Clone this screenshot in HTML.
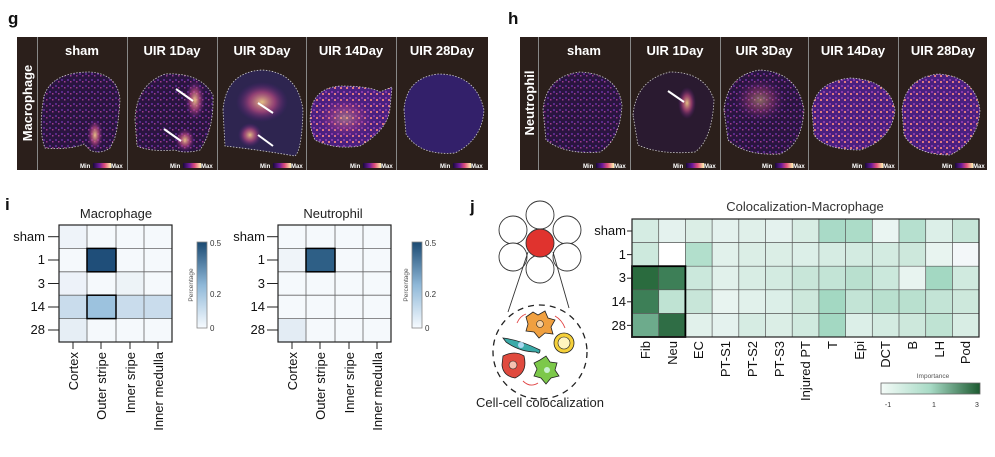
<!DOCTYPE html>
<html><head><meta charset="utf-8"><style>
body{margin:0;background:#fff;}
svg{display:block;font-family:"Liberation Sans",Arial,sans-serif;}
</style></head><body>
<svg width="995" height="457" viewBox="0 0 995 457" xmlns="http://www.w3.org/2000/svg">
<defs>
<linearGradient id="mm" x1="0" x2="1"><stop offset="0" stop-color="#1a0a3a"/><stop offset=".35" stop-color="#6a1a9a"/><stop offset=".65" stop-color="#e0507a"/><stop offset="1" stop-color="#fff2b0"/></linearGradient>
<linearGradient id="bl" x1="0" y1="1" x2="0" y2="0"><stop offset="0" stop-color="#f7fbff"/><stop offset=".5" stop-color="#8fb8d8"/><stop offset="1" stop-color="#1b4a72"/></linearGradient>
<linearGradient id="gr" x1="0" x2="1"><stop offset="0" stop-color="#f4fbf8"/><stop offset=".5" stop-color="#a7dac5"/><stop offset="1" stop-color="#1c5a30"/></linearGradient>
<radialGradient id="hot"><stop offset="0" stop-color="#f8d28a" stop-opacity=".9"/><stop offset=".5" stop-color="#d0508a" stop-opacity=".6"/><stop offset="1" stop-color="#5a1a8a" stop-opacity="0"/></radialGradient>
<pattern id="dots" width="6" height="6" patternUnits="userSpaceOnUse"><rect width="6" height="6" fill="#2a1540"/><rect x="1" y="1" width="2" height="2" fill="#5a2a8a"/><rect x="4" y="3" width="1.5" height="1.5" fill="#a03a90"/></pattern>
<pattern id="dots2" width="6" height="6" patternUnits="userSpaceOnUse"><rect width="6" height="6" fill="#4a2080"/><rect x="1" y="1" width="2" height="2" fill="#8a3aa8"/><rect x="4" y="3" width="2" height="2" fill="#e07a80"/></pattern>
</defs>

<!-- Panel g -->
<text x="8" y="24" font-size="17" font-weight="bold" fill="#111">g</text>
<rect x="17" y="37" width="471" height="133" fill="#2b1f1b"/>
<g stroke="#888" stroke-width="1"><line x1="37.5" y1="37" x2="37.5" y2="170"/><line x1="127.5" y1="37" x2="127.5" y2="170"/><line x1="217.5" y1="37" x2="217.5" y2="170"/><line x1="306.5" y1="37" x2="306.5" y2="170"/><line x1="396.5" y1="37" x2="396.5" y2="170"/></g>
<text transform="translate(32,103) rotate(-90)" text-anchor="middle" font-size="13" font-weight="bold" fill="#fff">Macrophage</text>
<g font-size="13" font-weight="bold" fill="#fff" text-anchor="middle">
<text x="82" y="55">sham</text><text x="172" y="55">UIR 1Day</text><text x="262" y="55">UIR 3Day</text><text x="351" y="55">UIR 14Day</text><text x="442" y="55">UIR 28Day</text></g>
<g stroke="#ccc" stroke-dasharray="1.5,1.5" stroke-width="0.8">
<path d="M44,96 Q52,72 90,72 Q118,74 120,100 Q118,130 114,140 L110,148 Q100,155 90,150 L84,144 Q70,150 45,148 Q38,130 44,96Z" fill="url(#dots)"/>
<path d="M135,120 Q136,85 165,74 Q200,72 213,95 Q214,130 200,150 Q185,154 175,150 Q150,152 137,146 Z" fill="url(#dots)"/>
<path d="M223,110 Q226,72 262,70 Q298,72 303,110 Q302,150 295,156 Q260,150 225,146 Z" fill="#2e2550"/>
<path d="M311,110 Q315,88 340,86 Q370,86 380,92 L392,87 L390,108 Q388,130 360,146 Q335,150 315,140 Q308,125 311,110Z" fill="url(#dots2)"/>
<path d="M404,110 Q406,78 438,74 Q476,74 484,110 Q482,140 455,153 Q420,156 406,134 Z" fill="#33206a"/>
</g>
<ellipse cx="95" cy="135" rx="8" ry="16" fill="url(#hot)"/>
<ellipse cx="195" cy="100" rx="10" ry="20" fill="url(#hot)"/>
<ellipse cx="185" cy="140" rx="10" ry="12" fill="url(#hot)"/>
<ellipse cx="262" cy="102" rx="26" ry="20" fill="url(#hot)"/>
<ellipse cx="250" cy="135" rx="12" ry="12" fill="url(#hot)"/>
<ellipse cx="345" cy="118" rx="30" ry="22" fill="url(#hot)" opacity=".5"/>
<g stroke="#fff" stroke-width="2"><line x1="176" y1="89" x2="193" y2="101"/><line x1="164" y1="129" x2="181" y2="141"/><line x1="273" y1="113" x2="258" y2="103"/><line x1="273" y1="146" x2="258" y2="135"/></g>
<g font-size="6" fill="#fff" font-weight="bold">
<text x="80" y="168">Min</text><rect x="93" y="163" width="18" height="5" fill="url(#mm)"/><text x="111" y="168">Max</text>
<text x="170" y="168">Min</text><rect x="183" y="163" width="18" height="5" fill="url(#mm)"/><text x="201" y="168">Max</text>
<text x="260" y="168">Min</text><rect x="273" y="163" width="18" height="5" fill="url(#mm)"/><text x="291" y="168">Max</text>
<text x="350" y="168">Min</text><rect x="363" y="163" width="18" height="5" fill="url(#mm)"/><text x="381" y="168">Max</text>
<text x="440" y="168">Min</text><rect x="453" y="163" width="18" height="5" fill="url(#mm)"/><text x="471" y="168">Max</text></g>

<!-- Panel h -->
<text x="508" y="24" font-size="17" font-weight="bold" fill="#111">h</text>
<rect x="520" y="37" width="467" height="133" fill="#2b1f1b"/>
<g stroke="#888" stroke-width="1"><line x1="538.5" y1="37" x2="538.5" y2="170"/><line x1="630.5" y1="37" x2="630.5" y2="170"/><line x1="720.5" y1="37" x2="720.5" y2="170"/><line x1="808.5" y1="37" x2="808.5" y2="170"/><line x1="898.5" y1="37" x2="898.5" y2="170"/></g>
<text transform="translate(534,103) rotate(-90)" text-anchor="middle" font-size="13" font-weight="bold" fill="#fff">Neutrophil</text>
<g font-size="13" font-weight="bold" fill="#fff" text-anchor="middle">
<text x="584" y="55">sham</text><text x="675" y="55">UIR 1Day</text><text x="764" y="55">UIR 3Day</text><text x="853" y="55">UIR 14Day</text><text x="943" y="55">UIR 28Day</text></g>
<g stroke="#ccc" stroke-dasharray="1.5,1.5" stroke-width="0.8">
<path d="M543,110 Q546,76 580,72 Q618,74 622,105 Q620,140 600,152 Q565,155 546,140 Z" fill="url(#dots)"/>
<path d="M633,115 Q636,80 670,72 Q705,72 714,100 Q712,140 695,152 Q660,155 638,145 Z" fill="#2a1a30"/>
<path d="M724,110 Q727,75 760,70 Q798,72 804,110 Q802,145 780,154 Q745,156 728,140 Z" fill="url(#dots)"/>
<path d="M812,110 Q815,82 850,78 Q890,80 895,110 Q892,140 860,150 Q825,150 814,135 Z" fill="url(#dots2)"/>
<path d="M902,110 Q905,78 938,74 Q975,76 980,110 Q978,142 950,155 Q915,155 904,135 Z" fill="url(#dots2)"/>
</g>
<ellipse cx="687" cy="103" rx="9" ry="16" fill="url(#hot)"/>
<ellipse cx="760" cy="100" rx="26" ry="22" fill="url(#hot)" opacity=".5"/>
<line x1="668" y1="91" x2="684" y2="102" stroke="#fff" stroke-width="2"/>
<g font-size="6" fill="#fff" font-weight="bold">
<text x="583" y="168">Min</text><rect x="596" y="163" width="18" height="5" fill="url(#mm)"/><text x="614" y="168">Max</text>
<text x="673" y="168">Min</text><rect x="686" y="163" width="18" height="5" fill="url(#mm)"/><text x="704" y="168">Max</text>
<text x="762" y="168">Min</text><rect x="775" y="163" width="18" height="5" fill="url(#mm)"/><text x="793" y="168">Max</text>
<text x="852" y="168">Min</text><rect x="865" y="163" width="18" height="5" fill="url(#mm)"/><text x="883" y="168">Max</text>
<text x="942" y="168">Min</text><rect x="955" y="163" width="18" height="5" fill="url(#mm)"/><text x="973" y="168">Max</text></g>

<!-- Panel i -->
<text x="5" y="210" font-size="17" font-weight="bold" fill="#111">i</text>
<text x="116" y="218" font-size="13" text-anchor="middle" fill="#222">Macrophage</text>
<g transform="translate(59,225)">
<rect width="113" height="117" fill="#f5f9fc"/>
<rect x="0" y="0" width="28" height="23.4" fill="#eef3f9"/>
<rect x="0" y="46.8" width="28" height="23.4" fill="#edf2f9"/>
<rect x="57" y="46.8" width="28" height="23.4" fill="#edf3f7"/>
<rect x="0" y="70.2" width="113" height="23.4" fill="#c9dcec"/>
<rect x="0" y="93.6" width="28" height="23.4" fill="#e6eef5"/>
<g stroke="#666" stroke-width="0.8"><line x1="28" y1="0" x2="28" y2="117"/><line x1="57" y1="0" x2="57" y2="117"/><line x1="85" y1="0" x2="85" y2="117"/>
<line x1="0" y1="23.4" x2="113" y2="23.4"/><line x1="0" y1="46.8" x2="113" y2="46.8"/><line x1="0" y1="70.2" x2="113" y2="70.2"/><line x1="0" y1="93.6" x2="113" y2="93.6"/></g>
<rect x="28" y="23.4" width="29" height="23.4" fill="#1f4e79" stroke="#000" stroke-width="1.5"/>
<rect x="28" y="70.2" width="29" height="23.4" fill="#9cc2de" stroke="#000" stroke-width="1.5"/>
<rect width="113" height="117" fill="none" stroke="#222" stroke-width="1.2"/>
</g>
<g font-size="13" fill="#111" text-anchor="end">
<text x="45" y="241">sham</text><text x="45" y="264">1</text><text x="45" y="288">3</text><text x="45" y="311">14</text><text x="45" y="334">28</text></g>
<g stroke="#222"><line x1="48" y1="236.7" x2="59" y2="236.7"/><line x1="48" y1="260" x2="59" y2="260"/><line x1="48" y1="283.5" x2="59" y2="283.5"/><line x1="48" y1="307" x2="59" y2="307"/><line x1="48" y1="330" x2="59" y2="330"/>
<line x1="73" y1="342" x2="73" y2="349"/><line x1="101" y1="342" x2="101" y2="349"/><line x1="130" y1="342" x2="130" y2="349"/><line x1="158" y1="342" x2="158" y2="349"/></g>
<g font-size="13" fill="#111" text-anchor="end">
<text transform="translate(78,352) rotate(-90)">Cortex</text><text transform="translate(106,352) rotate(-90)">Outer stripe</text><text transform="translate(135,352) rotate(-90)">Inner sripe</text><text transform="translate(163,352) rotate(-90)">Inner medulla</text></g>
<rect x="197" y="242" width="10" height="86" fill="url(#bl)" stroke="#888" stroke-width="0.8"/>
<g font-size="8" fill="#333"><text x="210" y="246">0.5</text><text x="210" y="297">0.2</text><text x="210" y="331">0</text></g>
<text transform="translate(193,285) rotate(-90)" font-size="6.5" fill="#555" text-anchor="middle">Percentage</text>

<text x="333" y="218" font-size="13" text-anchor="middle" fill="#222">Neutrophil</text>
<g transform="translate(278,225)">
<rect width="113" height="117" fill="#f5f9fc"/>
<rect x="0" y="23.4" width="28" height="23.4" fill="#eff4f9"/>
<rect x="0" y="93.6" width="28" height="23.4" fill="#e3ecf4"/>
<g stroke="#666" stroke-width="0.8"><line x1="28" y1="0" x2="28" y2="117"/><line x1="57" y1="0" x2="57" y2="117"/><line x1="85" y1="0" x2="85" y2="117"/>
<line x1="0" y1="23.4" x2="113" y2="23.4"/><line x1="0" y1="46.8" x2="113" y2="46.8"/><line x1="0" y1="70.2" x2="113" y2="70.2"/><line x1="0" y1="93.6" x2="113" y2="93.6"/></g>
<rect x="28" y="23.4" width="29" height="23.4" fill="#2e5f86" stroke="#000" stroke-width="1.5"/>
<rect width="113" height="117" fill="none" stroke="#222" stroke-width="1.2"/>
</g>
<g font-size="13" fill="#111" text-anchor="end">
<text x="265" y="241">sham</text><text x="265" y="264">1</text><text x="265" y="288">3</text><text x="265" y="311">14</text><text x="265" y="334">28</text></g>
<g stroke="#222"><line x1="267" y1="236.7" x2="278" y2="236.7"/><line x1="267" y1="260" x2="278" y2="260"/><line x1="267" y1="283.5" x2="278" y2="283.5"/><line x1="267" y1="307" x2="278" y2="307"/><line x1="267" y1="330" x2="278" y2="330"/>
<line x1="292" y1="342" x2="292" y2="349"/><line x1="320" y1="342" x2="320" y2="349"/><line x1="349" y1="342" x2="349" y2="349"/><line x1="377" y1="342" x2="377" y2="349"/></g>
<g font-size="13" fill="#111" text-anchor="end">
<text transform="translate(297,352) rotate(-90)">Cortex</text><text transform="translate(325,352) rotate(-90)">Outer stripe</text><text transform="translate(354,352) rotate(-90)">Inner sripe</text><text transform="translate(382,352) rotate(-90)">Inner medulla</text></g>
<rect x="412" y="242" width="10" height="86" fill="url(#bl)" stroke="#888" stroke-width="0.8"/>
<g font-size="8" fill="#333"><text x="425" y="246">0.5</text><text x="425" y="297">0.2</text><text x="425" y="331">0</text></g>
<text transform="translate(408,285) rotate(-90)" font-size="6.5" fill="#555" text-anchor="middle">Percentage</text>

<!-- Panel j -->
<text x="470" y="212" font-size="17" font-weight="bold" fill="#111">j</text>
<g fill="#fff" stroke="#333" stroke-width="0.9">
<circle cx="540" cy="215" r="14"/><circle cx="513" cy="230" r="14"/><circle cx="567" cy="230" r="14"/>
<circle cx="513" cy="257" r="14"/><circle cx="567" cy="257" r="14"/><circle cx="540" cy="269" r="14"/></g>
<circle cx="540" cy="243" r="14" fill="#e0332e" stroke="#333" stroke-width="0.9"/>
<g stroke="#333" stroke-width="0.9"><line x1="528" y1="252" x2="508" y2="312"/><line x1="553" y1="252" x2="569" y2="308"/></g>
<circle cx="540" cy="352" r="47" fill="none" stroke="#222" stroke-width="1.3" stroke-dasharray="6,5"/>
<path d="M526,317 L533,312 L538,315 L545,311 L548,318 L555,320 L551,327 L553,334 L545,333 L539,338 L534,332 L526,331 L528,324 Z" fill="#f0a040" stroke="#222" stroke-width="0.8"/><circle cx="540" cy="324" r="3.5" fill="#f6d0a0" stroke="#222" stroke-width="0.6"/>
<circle cx="564" cy="343" r="10" fill="#f5d03a" stroke="#222" stroke-width="0.8"/><circle cx="564" cy="343" r="6" fill="#fff4c0" stroke="#222" stroke-width="0.6"/>
<path d="M503,338 Q520,340 540,350 Q540,355 536,352 Q520,352 506,342 Z" fill="#3aaaa8" stroke="#222" stroke-width="0.8"/><circle cx="521" cy="345" r="3" fill="#aad8f0"/>
<path d="M503,356 Q515,350 524,356 Q528,372 515,378 Q503,376 502,365 Z" fill="#e04a3e" stroke="#222" stroke-width="0.8"/><circle cx="513" cy="365" r="4" fill="#f6c0b0" stroke="#222" stroke-width="0.6"/>
<path d="M540,360 L546,356 L550,362 L557,363 L555,370 L559,376 L551,378 L546,384 L541,378 L534,376 L537,369 L534,363 Z" fill="#7cc84a" stroke="#222" stroke-width="0.8"/><circle cx="547" cy="370" r="3" fill="#c8f0d0"/>
<g stroke="#e04040" stroke-width="0.9" fill="none"><path d="M517,323 Q520,316 526,314"/><path d="M555,316 Q562,320 565,328"/><path d="M523,381 Q530,388 538,383"/></g>
<text x="540" y="407" font-size="13" text-anchor="middle" fill="#222">Cell-cell colocalization</text>

<text x="805" y="211" font-size="13" text-anchor="middle" fill="#333">Colocalization-Macrophage</text>
<g transform="translate(632,219)">
<g id="r0">
<rect x="0" y="0" width="27" height="24" fill="#d5ece3"/><rect x="26.7" y="0" width="27" height="24" fill="#e4f2ee"/><rect x="53.4" y="0" width="27" height="24" fill="#dbeee6"/><rect x="80.1" y="0" width="27" height="24" fill="#e4f2ee"/><rect x="106.8" y="0" width="27" height="24" fill="#e0f0ea"/><rect x="133.5" y="0" width="27" height="24" fill="#e4f2ee"/><rect x="160.2" y="0" width="27" height="24" fill="#d8ede4"/><rect x="186.9" y="0" width="27" height="24" fill="#a9dac7"/><rect x="213.6" y="0" width="27" height="24" fill="#acdcc8"/><rect x="240.3" y="0" width="27" height="24" fill="#eaf5f2"/><rect x="267" y="0" width="27" height="24" fill="#b6e0cf"/><rect x="293.7" y="0" width="27" height="24" fill="#dcefe8"/><rect x="320.4" y="0" width="27" height="24" fill="#c7e6d9"/>
</g>
<g transform="translate(0,23.6)">
<rect x="0" y="0" width="27" height="24" fill="#cde9dd"/><rect x="26.7" y="0" width="27" height="24" fill="#ffffff"/><rect x="53.4" y="0" width="27" height="24" fill="#b2dfcc"/><rect x="80.1" y="0" width="27" height="24" fill="#e1f1eb"/><rect x="106.8" y="0" width="27" height="24" fill="#dbeee6"/><rect x="133.5" y="0" width="27" height="24" fill="#dbeee6"/><rect x="160.2" y="0" width="27" height="24" fill="#dcefe8"/><rect x="186.9" y="0" width="27" height="24" fill="#d6ece3"/><rect x="213.6" y="0" width="27" height="24" fill="#d3ebe1"/><rect x="240.3" y="0" width="27" height="24" fill="#d3ebe1"/><rect x="267" y="0" width="27" height="24" fill="#cde8dc"/><rect x="293.7" y="0" width="27" height="24" fill="#e8f4f0"/><rect x="320.4" y="0" width="27" height="24" fill="#f3f7f9"/>
</g>
<g transform="translate(0,47.2)">
<rect x="0" y="0" width="27" height="24" fill="#2a6b3e"/><rect x="26.7" y="0" width="27" height="24" fill="#3d7f57"/><rect x="53.4" y="0" width="27" height="24" fill="#cbe8dc"/><rect x="80.1" y="0" width="27" height="24" fill="#e1f1eb"/><rect x="106.8" y="0" width="27" height="24" fill="#d8ede4"/><rect x="133.5" y="0" width="27" height="24" fill="#d3ebe1"/><rect x="160.2" y="0" width="27" height="24" fill="#c8e6d9"/><rect x="186.9" y="0" width="27" height="24" fill="#c3e4d6"/><rect x="213.6" y="0" width="27" height="24" fill="#b9e0cf"/><rect x="240.3" y="0" width="27" height="24" fill="#cbe8dc"/><rect x="267" y="0" width="27" height="24" fill="#e8f4f0"/><rect x="293.7" y="0" width="27" height="24" fill="#a3d8c2"/><rect x="320.4" y="0" width="27" height="24" fill="#d0eadf"/>
</g>
<g transform="translate(0,70.8)">
<rect x="0" y="0" width="27" height="24" fill="#3d7f57"/><rect x="26.7" y="0" width="27" height="24" fill="#bfe3d3"/><rect x="53.4" y="0" width="27" height="24" fill="#c8e6d9"/><rect x="80.1" y="0" width="27" height="24" fill="#e8f4f0"/><rect x="106.8" y="0" width="27" height="24" fill="#e1f1eb"/><rect x="133.5" y="0" width="27" height="24" fill="#dcefe8"/><rect x="160.2" y="0" width="27" height="24" fill="#cde8dc"/><rect x="186.9" y="0" width="27" height="24" fill="#a3d8c2"/><rect x="213.6" y="0" width="27" height="24" fill="#c3e4d6"/><rect x="240.3" y="0" width="27" height="24" fill="#b9e0cf"/><rect x="267" y="0" width="27" height="24" fill="#b9e0cf"/><rect x="293.7" y="0" width="27" height="24" fill="#c3e4d6"/><rect x="320.4" y="0" width="27" height="24" fill="#cde8dc"/>
</g>
<g transform="translate(0,94.4)">
<rect x="0" y="0" width="27" height="24" fill="#6dab8c"/><rect x="26.7" y="0" width="27" height="24" fill="#2f6d45"/><rect x="53.4" y="0" width="27" height="24" fill="#e1f1eb"/><rect x="80.1" y="0" width="27" height="24" fill="#e4f2ee"/><rect x="106.8" y="0" width="27" height="24" fill="#d6ece3"/><rect x="133.5" y="0" width="27" height="24" fill="#dbeee6"/><rect x="160.2" y="0" width="27" height="24" fill="#d0eadf"/><rect x="186.9" y="0" width="27" height="24" fill="#a3d8c2"/><rect x="213.6" y="0" width="27" height="24" fill="#dcefe8"/><rect x="240.3" y="0" width="27" height="24" fill="#d3ebe1"/><rect x="267" y="0" width="27" height="24" fill="#cde8dc"/><rect x="293.7" y="0" width="27" height="24" fill="#bfe3d3"/><rect x="320.4" y="0" width="27" height="24" fill="#d8ede4"/>
</g>
<g stroke="#555" stroke-width="0.7">
<line x1="26.7" y1="0" x2="26.7" y2="118"/><line x1="53.4" y1="0" x2="53.4" y2="118"/><line x1="80.1" y1="0" x2="80.1" y2="118"/><line x1="106.8" y1="0" x2="106.8" y2="118"/><line x1="133.5" y1="0" x2="133.5" y2="118"/><line x1="160.2" y1="0" x2="160.2" y2="118"/><line x1="186.9" y1="0" x2="186.9" y2="118"/><line x1="213.6" y1="0" x2="213.6" y2="118"/><line x1="240.3" y1="0" x2="240.3" y2="118"/><line x1="267" y1="0" x2="267" y2="118"/><line x1="293.7" y1="0" x2="293.7" y2="118"/><line x1="320.4" y1="0" x2="320.4" y2="118"/>
<line x1="0" y1="23.6" x2="347" y2="23.6"/><line x1="0" y1="47.2" x2="347" y2="47.2"/><line x1="0" y1="70.8" x2="347" y2="70.8"/><line x1="0" y1="94.4" x2="347" y2="94.4"/></g>
<rect x="0" y="47.2" width="53.4" height="70.8" fill="none" stroke="#000" stroke-width="1.8"/>
<rect width="347" height="118" fill="none" stroke="#222" stroke-width="1.2"/>
</g>
<g font-size="13" fill="#111" text-anchor="end">
<text x="626" y="235">sham</text><text x="626" y="259">1</text><text x="626" y="282">3</text><text x="626" y="306">14</text><text x="626" y="330">28</text></g>
<g stroke="#222"><line x1="627" y1="231" x2="632" y2="231"/><line x1="627" y1="254.6" x2="632" y2="254.6"/><line x1="627" y1="278.2" x2="632" y2="278.2"/><line x1="627" y1="301.8" x2="632" y2="301.8"/><line x1="627" y1="325.4" x2="632" y2="325.4"/></g>
<g font-size="13" fill="#111" text-anchor="end">
<text transform="translate(650,341) rotate(-90)">Fib</text><text transform="translate(677,341) rotate(-90)">Neu</text><text transform="translate(703,341) rotate(-90)">EC</text><text transform="translate(730,341) rotate(-90)">PT-S1</text><text transform="translate(757,341) rotate(-90)">PT-S2</text><text transform="translate(784,341) rotate(-90)">PT-S3</text><text transform="translate(810,341) rotate(-90)">Injured PT</text><text transform="translate(837,341) rotate(-90)">T</text><text transform="translate(864,341) rotate(-90)">Epi</text><text transform="translate(890,341) rotate(-90)">DCT</text><text transform="translate(917,341) rotate(-90)">B</text><text transform="translate(944,341) rotate(-90)">LH</text><text transform="translate(970,341) rotate(-90)">Pod</text></g>
<text x="933" y="378" font-size="6.5" fill="#555" text-anchor="middle">Importance</text>
<rect x="881" y="383" width="99" height="11" fill="url(#gr)" stroke="#666" stroke-width="0.8"/>
<g font-size="7" fill="#333" text-anchor="middle"><text x="888" y="407">-1</text><text x="934" y="407">1</text><text x="977" y="407">3</text></g>
</svg>
</body></html>
